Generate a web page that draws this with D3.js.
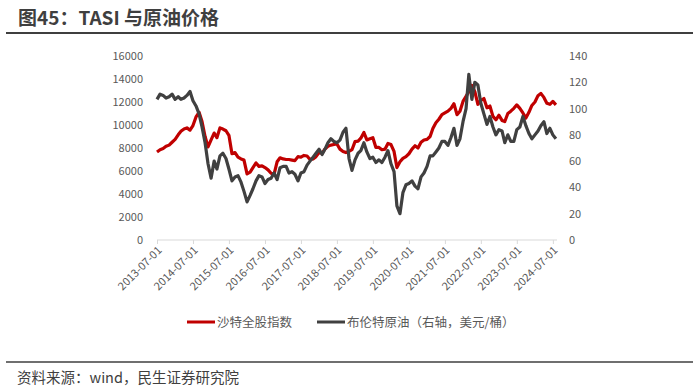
<!DOCTYPE html>
<html><head><meta charset="utf-8">
<script src="https://cdn.jsdelivr.net/npm/d3@7"></script>
<style>
body{margin:0;background:#fff;}
svg{display:block;font-family:"Microsoft YaHei","Noto Sans CJK SC","Noto Sans",sans-serif;}
</style></head>
<body><svg id="c" width="700" height="392"></svg>
<script>
const startMonth = "2013-07-01";
const tasi = [
 7650,7850,7950,8150,8250,8500,
 8750,9150,9450,9650,9750,9550,9950,10700,11100,10300,9000,8100,
 8700,9300,8900,9750,9650,9500,9100,7500,7600,7200,7050,6950,
 5750,5900,6300,6700,6400,6450,6300,6100,5800,5700,6800,7150,
 7050,7000,7000,6950,6900,7250,7200,7350,7300,7000,7050,7250,
 7600,7550,7900,8150,8250,8300,8350,7900,7700,7600,7700,7850,
 8550,8600,8850,9350,8700,8800,8900,8050,8050,7850,7900,8400,
 8300,7700,6300,6800,7100,7250,7500,7900,8200,8000,8500,8700,
 8750,9000,9700,10200,10500,10900,11050,11200,11450,11850,10900,11200,
 12050,12500,12900,13450,12900,11800,12150,12300,11500,11650,10750,10450,
 10850,10400,10300,11000,11200,11450,11750,11450,11050,10600,11100,11700,
 12000,12550,12750,12400,11900,11800,12050,11750
];
const brent = [
 107,111,110,108,109,111,
 107,109,107,108,110,113,106,102,96,86,74,58,
 47,60,54,64,66,62,54,45,48,49,44,37,
 29,34,39,45,49,48,43,46,47,51,46,55,
 56,56,51,52,50,45,51,52,57,60,63,66,
 69,65,69,74,77,75,74,76,82,85,62,53,
 61,66,68,74,67,62,63,59,61,59,63,68,
 58,52,26,20,36,42,43,45,41,39,48,51,
 56,64,64,67,70,75,75,72,78,85,72,77,
 90,100,126,107,120,118,104,96,88,94,86,80,
 84,83,74,80,75,75,84,86,94,87,81,77,
 80,83,87,90,81,85,80,77
];
const xTickLabels = ["2013-07-01","2014-07-01","2015-07-01","2016-07-01","2017-07-01","2018-07-01",
 "2019-07-01","2020-07-01","2021-07-01","2022-07-01","2023-07-01","2024-07-01"];
const leftTicks = [0,2000,4000,6000,8000,10000,12000,14000,16000];
const rightTicks = [0,20,40,60,80,100,120,140];
const seriesNames = ["沙特全股指数","布伦特原油（右轴，美元/桶）"];
const titleText = "图45：TASI 与原油价格";
const sourceText = "资料来源：wind，民生证券研究院";

const parse = d3.timeParse("%Y-%m-%d");
const dates = d3.timeMonth.range(parse(startMonth), d3.timeMonth.offset(parse(startMonth), tasi.length));
const svg = d3.select("#c");

const x = d3.scaleTime().domain([parse("2013-07-01"), parse("2024-08-12")]).range([157, 557]);
const yL = d3.scaleLinear().domain([0,16000]).range([240,56]);
const yR = d3.scaleLinear().domain([0,140]).range([240,56]);

// title
svg.append("text").attr("x",18).attr("y",25).text(titleText)
  .attr("font-size",19).attr("font-weight","bold").attr("fill","#3f3f3f");
svg.append("line").attr("x1",6).attr("x2",693).attr("y1",33).attr("y2",33)
  .attr("stroke","#3f3f3f").attr("stroke-width",2);

// left axis
const gL = svg.append("g").attr("transform","translate(143,0)")
  .call(d3.axisLeft(yL).tickValues(leftTicks).tickSize(0).tickPadding(0).tickFormat(d3.format("d")));
gL.select(".domain").remove();
gL.selectAll("text").attr("font-size",11).attr("fill","#595959").attr("font-family","Microsoft YaHei,Noto Sans CJK SC,sans-serif");

// right axis
const gR = svg.append("g").attr("transform","translate(569,0)")
  .call(d3.axisRight(yR).tickValues(rightTicks).tickSize(0).tickPadding(0));
gR.select(".domain").remove();
gR.selectAll("text").attr("font-size",11).attr("fill","#595959").attr("font-family","Microsoft YaHei,Noto Sans CJK SC,sans-serif");

// x axis
const gX = svg.append("g").attr("transform","translate(0,240)")
  .call(d3.axisBottom(x).tickValues(xTickLabels.map(parse)).tickSize(4).tickSizeOuter(0)
    .tickFormat(d3.timeFormat("%Y-%m-%d")));
gX.select(".domain").attr("stroke","#d9d9d9").attr("d","M157,0H557");
gX.selectAll(".tick line").attr("stroke","#d9d9d9");
gX.selectAll("text").attr("font-size",11).attr("fill","#595959")
  .attr("font-family","Microsoft YaHei,Noto Sans CJK SC,sans-serif")
  .attr("text-anchor","end").attr("dy",0).attr("y",0)
  .attr("transform","translate(5,11) rotate(-45)");

// lines
const lineL = d3.line().x((d,i)=>x(dates[i])).y(d=>yL(d));
const lineR = d3.line().x((d,i)=>x(dates[i])).y(d=>yR(d));
svg.append("path").datum(tasi).attr("d",lineL).attr("fill","none")
  .attr("stroke","#c00000").attr("stroke-width",3.2).attr("stroke-linejoin","round");
svg.append("path").datum(brent).attr("d",lineR).attr("fill","none")
  .attr("stroke","#404040").attr("stroke-width",3.2).attr("stroke-linejoin","round");

// legend
const lg = svg.append("g");
lg.append("line").attr("x1",187).attr("x2",215).attr("y1",322).attr("y2",322).attr("stroke","#c00000").attr("stroke-width",3);
lg.append("text").attr("x",217).attr("y",326.5).text(seriesNames[0]).attr("font-size",12.5).attr("fill","#595959");
lg.append("line").attr("x1",317).attr("x2",345).attr("y1",322).attr("y2",322).attr("stroke","#404040").attr("stroke-width",3);
lg.append("text").attr("x",347).attr("y",326.5).text(seriesNames[1]).attr("font-size",12.5).attr("fill","#595959");

// source
svg.append("line").attr("x1",6).attr("x2",693).attr("y1",362).attr("y2",362)
  .attr("stroke","#3f3f3f").attr("stroke-width",1.5);
svg.append("text").attr("x",17).attr("y",383).text(sourceText)
  .attr("font-size",14.5).attr("fill","#404040");
</script></body></html>
